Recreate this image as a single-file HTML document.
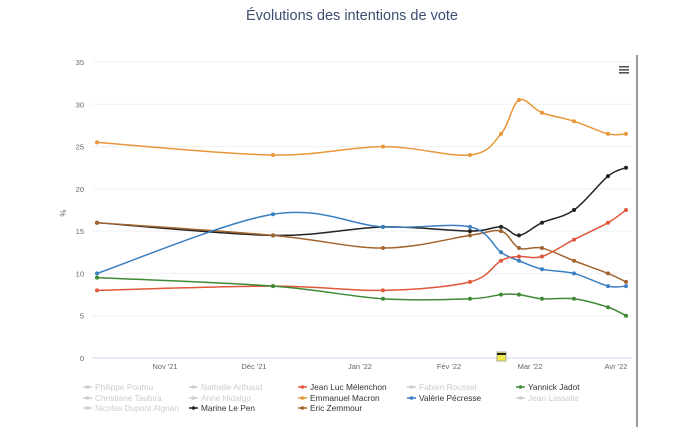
<!DOCTYPE html><html><head><meta charset="utf-8"><style>
body{margin:0;background:#fff;width:700px;height:427px;overflow:hidden;font-family:"Liberation Sans",sans-serif}
svg text{font-family:"Liberation Sans",sans-serif}
</style></head><body>
<svg id="s" width="700" height="427" xmlns="http://www.w3.org/2000/svg">
<text x="352" y="20" text-anchor="middle" font-size="14.5" fill="#3d4e72">Évolutions des intentions de vote</text>
<line x1="637" y1="55" x2="637" y2="427" stroke="#777" stroke-width="1.5"/>
<g fill="#555"><rect x="619" y="66" width="10" height="1.6"/><rect x="619" y="69" width="10" height="1.6"/><rect x="619" y="72" width="10" height="1.6"/></g>
<text x="66" y="213" font-size="8" fill="#666" transform="rotate(-90 66 213)" text-anchor="middle">%</text>
<g id="grid"></g><g id="series"></g>
<rect x="497" y="352" width="9" height="9" fill="#f2ea4a" stroke="#aa9"/><rect x="497" y="353" width="9" height="2" fill="#222"/>
<g font-size="7.5" fill="#666" text-anchor="middle">
<text x="165" y="369">Nov '21</text><text x="254" y="369">Déc '21</text><text x="360" y="369">Jan '22</text><text x="449" y="369">Fév '22</text><text x="530" y="369">Mar '22</text><text x="616" y="369">Avr '22</text></g>
<g id="leg" font-size="8.3"></g>
</svg>
<script>
const NS="http://www.w3.org/2000/svg";
function el(t,a,p){const e=document.createElementNS(NS,t);for(const k in a)e.setAttribute(k,a[k]);p.appendChild(e);return e}
const g=document.getElementById('grid'),s=document.getElementById('series'),L=document.getElementById('leg');
const Y=v=>358-v*8.457;
for(let v=0;v<=35;v+=5){el('line',{x1:92,x2:632,y1:Y(v),y2:Y(v),stroke:v?'#eef0f3':'#ccd6eb','stroke-width':1},g);
const t=el('text',{x:84,y:Y(v)+3,'font-size':7.5,fill:'#666','text-anchor':'end'},g);t.textContent=v;}
const X=[97,273,383,470,501,519,542,574,608,626];
const D=[
['#e8963a',[25.5,24,25,24,26.5,30.5,29,28,26.5,26.5]],
['#222',[16,14.5,15.5,15,15.5,14.5,16,17.5,21.5,22.5]],
['#a0642e',[16,14.5,13,14.5,15,13,13,11.5,10,9]],
['#3a7fc1',[10,17,15.5,15.5,12.5,11.5,10.5,10,8.5,8.5]],
['#e0573a',[8,8.5,8,9,11.5,12,12,14,16,17.5]],
['#3f8a35',[9.5,8.5,7,7,7.5,7.5,7,7,6,5]]];
for(const [c,v] of D){const p=X.map((x,i)=>[x,Y(v[i])]);let d='M'+p[0];
for(let i=0;i<p.length-1;i++){const p0=p[i-1]||p[i],p1=p[i],p2=p[i+1],p3=p[i+2]||p2;const k=6;
d+=` C${p1[0]+(p2[0]-p0[0])/k},${p1[1]+(p2[1]-p0[1])/k} ${p2[0]-(p3[0]-p1[0])/k},${p2[1]-(p3[1]-p1[1])/k} ${p2[0]},${p2[1]}`}
el('path',{d,fill:'none',stroke:c,'stroke-width':1.5},s);
p.forEach(q=>el('circle',{cx:q[0],cy:q[1],r:2,fill:c},s));}
const items=[[83,390,'Philippe Poutou',0],[83,401,'Christiane Taubira',0],[83,411,'Nicolas Dupont Aignan',0],
[189,390,'Nathalie Arthaud',0],[189,401,'Anne Hidalgo',0],[189,411,'Marine Le Pen','#222'],
[298,390,'Jean Luc Mélenchon','#e0573a'],[298,401,'Emmanuel Macron','#e8963a'],[298,411,'Eric Zemmour','#a0642e'],
[407,390,'Fabien Roussel',0],[407,401,'Valérie Pécresse','#3a7fc1'],
[516,390,'Yannick Jadot','#3f8a35'],[516,401,'Jean Lassalle',0]];
for(const [x,y,t,c] of items){const col=c||'#ccc';el('line',{x1:x,x2:x+9,y1:y-3,y2:y-3,stroke:col,'stroke-width':1.5},L);
el('circle',{cx:x+4.5,cy:y-3,r:1.8,fill:col},L);const e=el('text',{x:x+12,y:y,fill:c?'#333':'#ccc'},L);e.textContent=t;}
</script></body></html>
